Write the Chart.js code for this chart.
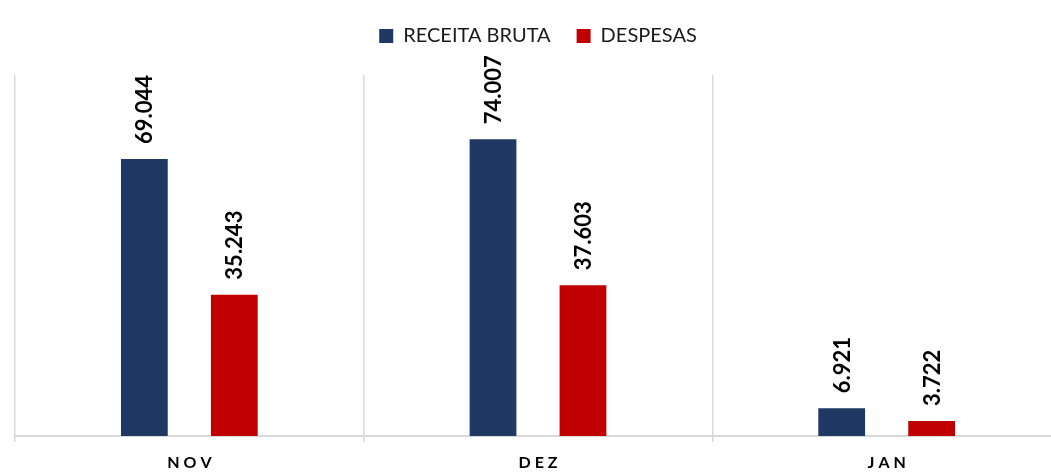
<!DOCTYPE html>
<html>
<head>
<meta charset="utf-8">
<script src="https://cdn.jsdelivr.net/npm/chart.js@4"></script>
<style>
    html, body { margin: 0; padding: 0; background: #fff; overflow: hidden; }
    #wrap { width: 1062px; height: 473px; }
</style>
</head>
<body>
<div id="wrap"><canvas id="chart"></canvas></div>
<script>
const categories = ['NOV', 'DEZ', 'JAN'];
const receitaBruta = [69044, 74007, 6921];
const despesas = [35243, 37603, 3722];
const seriesNames = ['RECEITA BRUTA', 'DESPESAS'];

const FONT = "Lato, 'Open Sans', sans-serif";

function formatValue(v) {
    return String(v).replace(/\B(?=(\d{3})+(?!\d))/g, '.');
}

// legend box gets a fixed height so the plot starts lower
const legendHeight = {
    id: 'legendHeight',
    beforeInit(chart) {
        const fit = chart.legend.fit;
        chart.legend.fit = function() {
            fit.call(this);
            this.height = 75;
        };
    }
};

// rotated value labels above each bar
const valueLabels = {
    id: 'valueLabels',
    afterDatasetsDraw(chart) {
        const ctx = chart.ctx;
        ctx.save();
        ctx.fillStyle = '#000';
        ctx.font = 'bold 22px ' + FONT;
        ctx.textAlign = 'left';
        ctx.textBaseline = 'middle';
        chart.data.datasets.forEach((ds, i) => {
            chart.getDatasetMeta(i).data.forEach((bar, j) => {
                ctx.save();
                ctx.translate(bar.x, bar.y - 15);
                ctx.rotate(-Math.PI / 2);
                ctx.fillText(formatValue(ds.data[j]), 0, 1);
                ctx.restore();
            });
        });
        ctx.restore();
    }
};

// spaced category labels under the axis
const categoryLabels = {
    id: 'categoryLabels',
    afterDraw(chart) {
        const ctx = chart.ctx;
        const x = chart.scales.x;
        const spacing = 4;
        ctx.save();
        ctx.fillStyle = '#000';
        ctx.font = 'bold 16px ' + FONT;
        ctx.textBaseline = 'middle';
        ctx.textAlign = 'left';
        categories.forEach((c, i) => {
            const chars = c.split('');
            let w = 0;
            chars.forEach((ch, k) => { w += ctx.measureText(ch).width + (k < chars.length - 1 ? spacing : 0); });
            let px = x.getPixelForTick(i) - w / 2;
            chars.forEach(ch => {
                ctx.fillText(ch, px, 463);
                px += ctx.measureText(ch).width + spacing;
            });
        });
        ctx.restore();
    }
};

new Chart(document.getElementById('chart'), {
    type: 'bar',
    data: {
        labels: categories,
        datasets: [{
            label: seriesNames[0],
            data: receitaBruta,
            backgroundColor: '#203864',
            categoryPercentage: 0.516,
            barPercentage: 0.52
        }, {
            label: seriesNames[1],
            data: despesas,
            backgroundColor: '#C00000',
            categoryPercentage: 0.516,
            barPercentage: 0.52
        }]
    },
    options: {
        responsive: true,
        maintainAspectRatio: false,
        animation: false,
        layout: {
            padding: { left: 15, right: 1, top: 0, bottom: 0 }
        },
        plugins: {
            legend: {
                position: 'top',
                labels: {
                    boxWidth: 14,
                    boxHeight: 14,
                    padding: 26,
                    color: '#1a1a1a',
                    font: { family: FONT, size: 20 }
                }
            },
            tooltip: { enabled: false }
        },
        scales: {
            x: {
                grid: {
                    offset: true,
                    color: '#d9d9d9',
                    lineWidth: 1.5,
                    tickLength: 6
                },
                border: { color: '#d9d9d9', width: 2 },
                ticks: { display: false },
                afterFit: function(scale) {
                    scale.height = 37;
                }
            },
            y: {
                display: false,
                min: 0,
                max: 90000
            }
        }
    },
    plugins: [legendHeight, valueLabels, categoryLabels]
});
</script>
</body>
</html>
